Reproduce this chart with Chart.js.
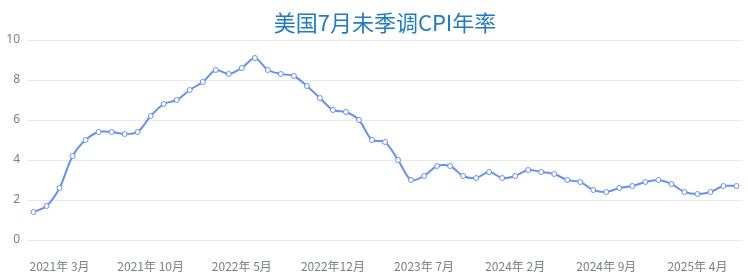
<!DOCTYPE html>
<html>
<head>
<meta charset="utf-8">
<script src="https://cdn.jsdelivr.net/npm/chart.js@4"></script>
<style>
html,body{margin:0;padding:0;background:#fff;}
#wrap{width:748px;height:278px;}
</style>
</head>
<body>
<div id="wrap"><canvas id="c" width="748" height="278"></canvas></div>
<script>
const titleText = '美国7月未季调CPI年率';
const categories = [
 '2021年 1月','2021年 2月','2021年 3月','2021年 4月','2021年 5月','2021年 6月','2021年 7月','2021年 8月','2021年 9月','2021年 10月','2021年 11月','2021年 12月',
 '2022年 1月','2022年 2月','2022年 3月','2022年 4月','2022年 5月','2022年 6月','2022年 7月','2022年 8月','2022年 9月','2022年10月','2022年11月','2022年12月',
 '2023年 1月','2023年 2月','2023年 3月','2023年 4月','2023年 5月','2023年 6月','2023年 7月','2023年 8月','2023年 9月','2023年10月','2023年11月','2023年12月',
 '2024年 1月','2024年 2月','2024年 3月','2024年 4月','2024年 5月','2024年 6月','2024年 7月','2024年 8月','2024年 9月','2024年10月','2024年11月','2024年12月',
 '2025年 1月','2025年 2月','2025年 3月','2025年 4月','2025年 5月','2025年 6月','2025年 7月'
];
const cpiValues = [
 1.4,1.7,2.6,4.2,5.0,5.4,5.4,5.3,5.4,6.2,6.8,7.0,
 7.5,7.9,8.5,8.3,8.6,9.1,8.5,8.3,8.2,7.7,7.1,6.5,
 6.4,6.0,5.0,4.9,4.0,3.0,3.2,3.7,3.7,3.2,3.1,3.4,
 3.1,3.2,3.5,3.4,3.3,3.0,2.9,2.5,2.4,2.6,2.7,2.9,
 3.0,2.8,2.4,2.3,2.4,2.7,2.7
];
const tickLabels = ['2021年 3月','2021年 10月','2022年 5月','2022年12月','2023年 7月','2024年 2月','2024年 9月','2025年 4月'];
const yTicks = [0,2,4,6,8,10];

const lineColor = '#6890f2';
const labelColor = '#7c7f8c';

const titlePlugin = {
  id: 'areaTitle',
  afterDraw(chart){
    const {ctx, chartArea} = chart;
    ctx.save();
    ctx.font = '22px "Noto Sans CJK SC", sans-serif';
    ctx.fillStyle = '#1f7bc6';
    ctx.textAlign = 'center';
    ctx.textBaseline = 'middle';
    ctx.fillText(titleText, (chartArea.left + chartArea.right) / 2, 23);
    ctx.restore();
  }
};

new Chart(document.getElementById('c'), {
  type: 'line',
  data: {
    labels: categories,
    datasets: [{
      data: cpiValues,
      borderColor: lineColor,
      borderWidth: 2,
      backgroundColor: '#ffffff',
      pointBackgroundColor: '#ffffff',
      pointBorderColor: lineColor,
      pointBorderWidth: 1,
      pointRadius: 2.5,
      tension: 0.3,
      fill: false
    }]
  },
  options: {
    responsive: false,
    animation: false,
    layout: { padding: { top: 40, right: -2, left: 0, bottom: 0 } },
    plugins: {
      legend: { display: false },
      tooltip: { enabled: false },
      title: { display: false }
    },
    scales: {
      x: {
        offset: true,
        grid: { display: false, drawTicks: false },
        border: { display: false },
        afterFit(scale){ scale.height = 38; scale.paddingLeft = 0; scale.paddingRight = 0; },
        ticks: {
          autoSkip: false,
          maxRotation: 0,
          minRotation: 0,
          padding: 19,
          color: labelColor,
          font: { size: 12, family: '"Noto Sans CJK SC", sans-serif' },
          callback(value, index){
            const lab = categories[index];
            const norm = s => s.replace(/\s/g,'');
            const hit = tickLabels.find(t => norm(t) === norm(lab));
            return hit ? hit : '';
          }
        }
      },
      y: {
        min: 0,
        max: 10,
        grid: { color: '#e9e9ee', drawTicks: false, lineWidth: 1 },
        border: { display: false },
        afterFit(scale){ scale.width = 27; },
        afterBuildTicks(scale){ scale.ticks = yTicks.map(v => ({ value: v })); },
        ticks: {
          padding: 7,
          color: labelColor,
          font: { size: 12, family: '"Noto Sans", sans-serif' }
        }
      }
    }
  },
  plugins: [titlePlugin]
});
</script>
</body>
</html>
